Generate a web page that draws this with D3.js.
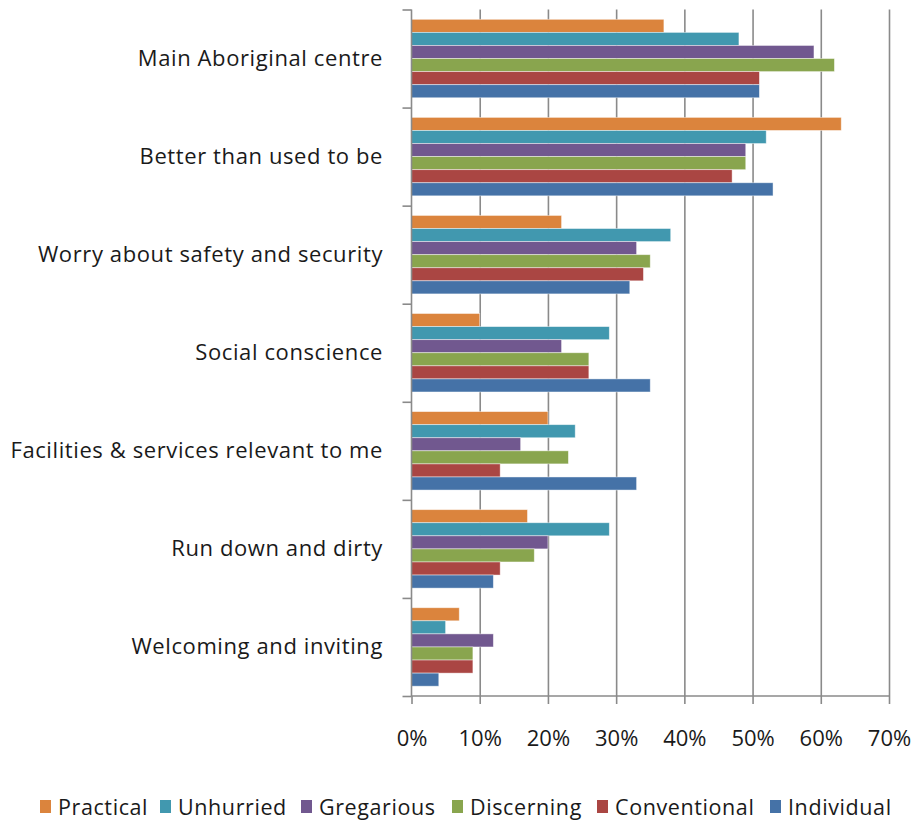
<!DOCTYPE html>
<html>
<head>
<meta charset="utf-8">
<script src="https://cdn.jsdelivr.net/npm/d3@7/dist/d3.min.js"></script>
<style>
  html, body { margin: 0; padding: 0; background: #fff; }
  svg { display: block; }
  text { font-family: "Open Sans", "Noto Sans", sans-serif; fill: #1a1a1a; }
</style>
</head>
<body>
<svg id="chart" width="917" height="822"></svg>
<script>
const categories = [
  "Main Aboriginal centre",
  "Better than used to be",
  "Worry about safety and security",
  "Social conscience",
  "Facilities & services relevant to me",
  "Run down and dirty",
  "Welcoming and inviting"
];
const seriesNames = ["Practical", "Unhurried", "Gregarious", "Discerning", "Conventional", "Individual"];
const seriesColors = ["#DB843D", "#4198AF", "#71588F", "#89A54E", "#AA4643", "#4572A7"];
// values in %, one array per series, in category order
const practical    = [37, 63, 22, 10, 20, 17, 7];
const unhurried    = [48, 52, 38, 29, 24, 29, 5];
const gregarious   = [59, 49, 33, 22, 16, 20, 12];
const discerning   = [62, 49, 35, 26, 23, 18, 9];
const conventional = [51, 47, 34, 26, 13, 13, 9];
const individual   = [51, 53, 32, 35, 33, 12, 4];
const xTicks = [0, 0.1, 0.2, 0.3, 0.4, 0.5, 0.6, 0.7];

const seriesValues = [practical, unhurried, gregarious, discerning, conventional, individual];

(function () {
const svg = d3.select("#chart");
const pL = 411.5, pR = 889, pT = 9.5, pB = 696;
const gridColor = "#8a8a8a";

const x = d3.scaleLinear().domain([0, 0.7]).range([pL, pR]);
const y = d3.scaleBand().domain(categories).range([pT, pB]).padding(0);
const bw = y.bandwidth();
const b = bw / 7.5;
const ys = d3.scaleBand().domain(seriesNames).range([0.75 * b, 6.75 * b]).padding(0);
const yBound = d3.scaleLinear().domain([0, categories.length]).range([pT, pB]);

// gridlines
svg.append("g")
  .attr("transform", `translate(0,${pB})`)
  .call(d3.axisBottom(x).tickValues(xTicks.slice(1)).tickSize(-(pB - pT)).tickFormat(""))
  .call(g => g.select(".domain").remove())
  .call(g => g.selectAll("line").attr("stroke", gridColor).attr("stroke-width", 1.6));

// bars
const data = [];
categories.forEach((c, i) => {
  seriesNames.forEach((s, j) => {
    data.push({ cat: c, ser: s, v: seriesValues[j][i] / 100, color: seriesColors[j] });
  });
});
svg.append("g").selectAll("rect").data(data).join("rect")
  .attr("x", x(0))
  .attr("y", d => y(d.cat) + ys(d.ser))
  .attr("width", d => x(d.v) - x(0))
  .attr("height", ys.bandwidth())
  .attr("fill", d => d.color)
  .attr("stroke", "rgba(255,255,255,0.55)")
  .attr("stroke-width", 0.8);

// x axis
const xAxis = svg.append("g")
  .attr("transform", `translate(0,${pB})`)
  .call(d3.axisBottom(x).tickValues(xTicks).tickSize(8).tickPadding(26).tickFormat(d3.format(".0%")));
xAxis.select(".domain").attr("stroke", gridColor).attr("stroke-width", 1.6).attr("d", `M${pL},0H${pR}`);
xAxis.selectAll(".tick line").attr("stroke", gridColor).attr("stroke-width", 1.6);
xAxis.selectAll(".tick text").attr("font-size", 22).attr("fill", "#1a1a1a")
  .style("font-family", '"Open Sans", sans-serif');

// y axis (boundary ticks)
const yAxis = svg.append("g")
  .attr("transform", `translate(${pL},0)`)
  .call(d3.axisLeft(yBound).tickValues(d3.range(categories.length + 1)).tickSize(9).tickFormat(""));
yAxis.select(".domain").attr("stroke", gridColor).attr("stroke-width", 1.6).attr("d", `M0,${pT}V${pB}`);
yAxis.selectAll(".tick line").attr("stroke", gridColor).attr("stroke-width", 1.6);

// category labels
svg.append("g").selectAll("text").data(categories).join("text")
  .attr("x", 383)
  .attr("y", d => y(d) + bw / 2 - 1.5)
  .attr("text-anchor", "end")
  .attr("dominant-baseline", "central")
  .attr("font-size", 22)
  .attr("letter-spacing", 0.6)
  .text(d => d);

// legend
const legendX = [40, 160, 301, 452, 597, 770];
const lg = svg.append("g").selectAll("g").data(seriesNames).join("g")
  .attr("transform", (d, i) => `translate(${legendX[i]},806.5)`);
lg.append("rect").attr("x", 0).attr("y", -6.5).attr("width", 11).attr("height", 13)
  .attr("fill", (d, i) => seriesColors[i]);
lg.append("text").attr("x", 18).attr("y", 0).attr("dominant-baseline", "central")
  .attr("font-size", 21.5).attr("letter-spacing", 0.6).text(d => d);
})();
</script>
</body>
</html>
